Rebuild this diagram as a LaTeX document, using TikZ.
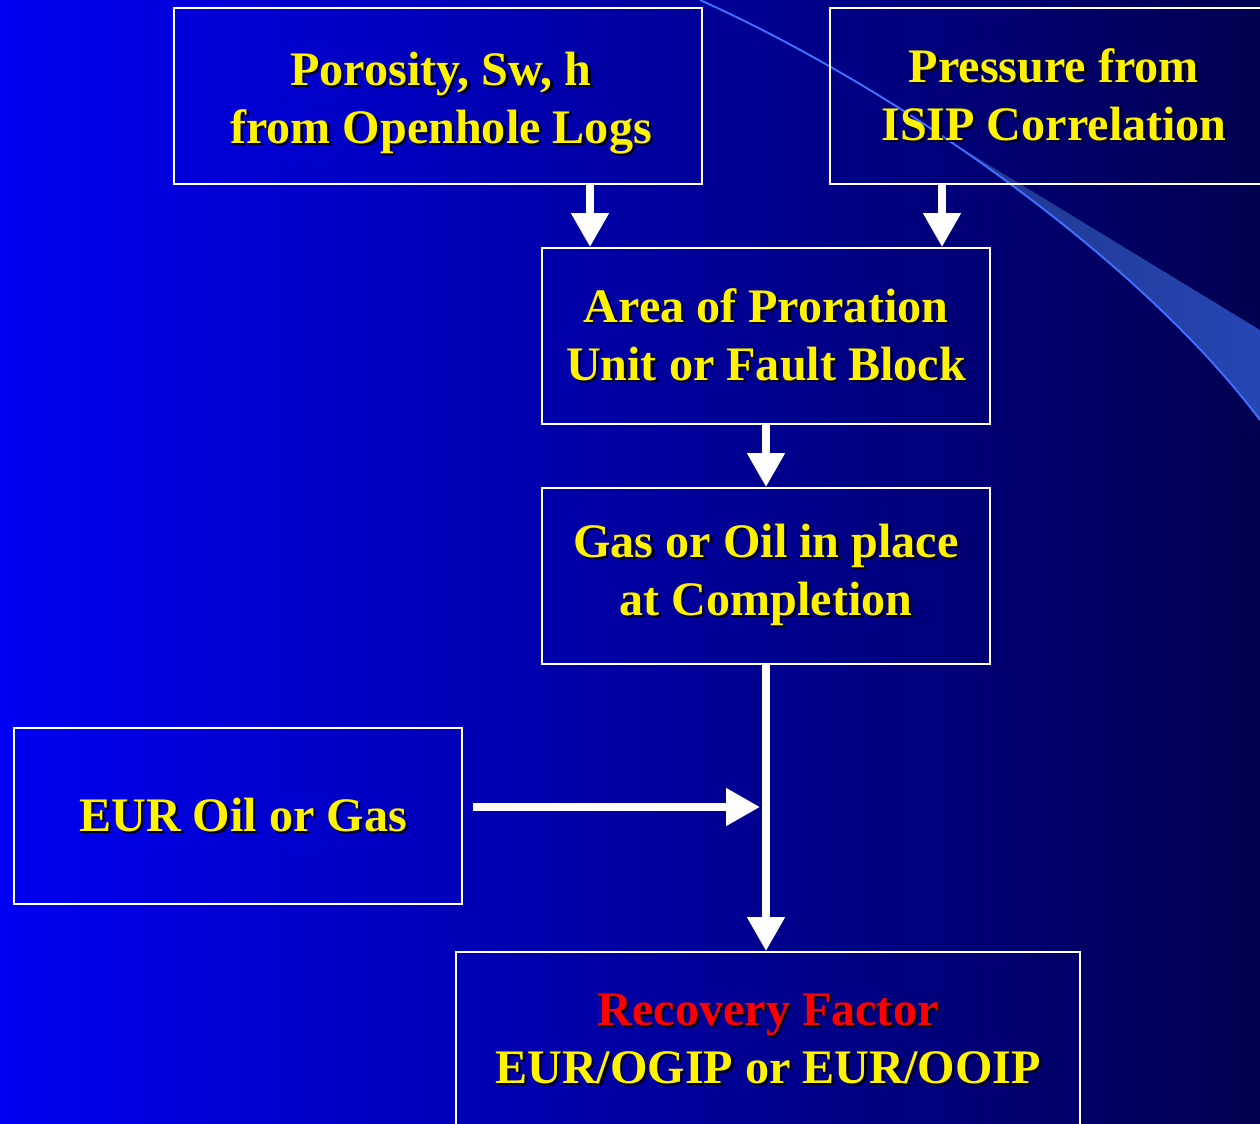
\documentclass[tikz,border=0pt]{standalone}
\usepackage{fontspec}
\setmainfont{Liberation Serif}
\usetikzlibrary{arrows.meta}

\definecolor{slideleft}{RGB}{0,0,242}
\definecolor{slidemid}{RGB}{0,0,205}
\definecolor{slideright}{RGB}{0,0,80}
\definecolor{swoosh}{RGB}{65,110,255}
\definecolor{wedgedark}{RGB}{30,55,140}
\definecolor{wedgelight}{RGB}{38,72,185}

% yellow text with a small black drop shadow
\newcommand{\shd}[1]{\makebox[0pt][l]{\hspace{0.045cm}\raisebox{-0.045cm}{\color{black}#1}}#1}

\begin{document}
\begin{tikzpicture}[x=0.02cm,y=-0.02cm,
    box/.style={draw=white,line width=1.1pt,text=yellow,
        font=\bfseries\fontsize{27.4}{33}\selectfont,align=center,
        minimum width=8.96cm,minimum height=3.52cm,inner sep=0pt},
    flow/.style={white,line width=4.5pt,-{Triangle[width=0.72cm,length=0.68cm]}}]
            \useasboundingbox (0,0) rectangle (1260,1123);

            % Background gradient
            \shade[left color=slideleft,middle color=slidemid,right color=slideright]
                (0,0) rectangle (1260,1123);

            % Swoosh in the upper right corner
            \begin{scope}
                \clip (800,49.9) -- (1300,354.4) -- (1300,1123) -- (800,1123) -- cycle;
                \clip (700,0) .. controls (900,90) and (1140,260) .. (1260,420)
                    -- (1300,420) -- (1300,0) -- cycle;
                \shade[left color=wedgedark,right color=wedgelight]
                    (940,0) rectangle (1300,500);
            \end{scope}
            \draw[swoosh,line width=1.1pt] (700,0) .. controls (900,90) and (1140,260) .. (1260,420);

            % Boxes
            \node[box,minimum width=10.56cm] (por) at (438,96) {};
            \node[text=yellow,font=\bfseries\fontsize{27.4}{33}\selectfont,align=center,inner sep=0pt]
                (portext) at (441,104) {\shd{Porosity, Sw, h}\\\shd{from Openhole Logs}};
            \node[box] (pre) at (1054,96) {\shd{Pressure from}\\\shd{ISIP Correlation}};
            \node[box] (area) at (766,336) {\shd{Area of Proration}\\\shd{Unit or Fault Block}};
            \node[box] (gas) at (766,576) {\shd{Gas or Oil in place}\\\shd{at Completion}};
            \node[box] (eur) at (238,816) {\hspace{0.2cm}\shd{EUR Oil or Gas}};
            \node[box,minimum width=12.48cm] (rec) at (768,1040)
                {{\color{red}\shd{Recovery Factor}}\\\shd{EUR/OGIP or EUR/OOIP}};

            % Arrows
            \foreach \from/\xx in {por/590, pre/942} {
                \draw[flow] (\from.south -| \xx,0) -- (area.north -| \xx,0);
            }
            \draw[flow] (area.south) -- (gas.north);
            \draw[flow] (gas.south) -- (rec.north -| gas.south);
            \coordinate (join) at (766,807);
            \draw[flow] ([xshift=0.2cm]eur.east |- join) -- ([xshift=-0.12cm]join);
        \end{tikzpicture}
\end{document}
